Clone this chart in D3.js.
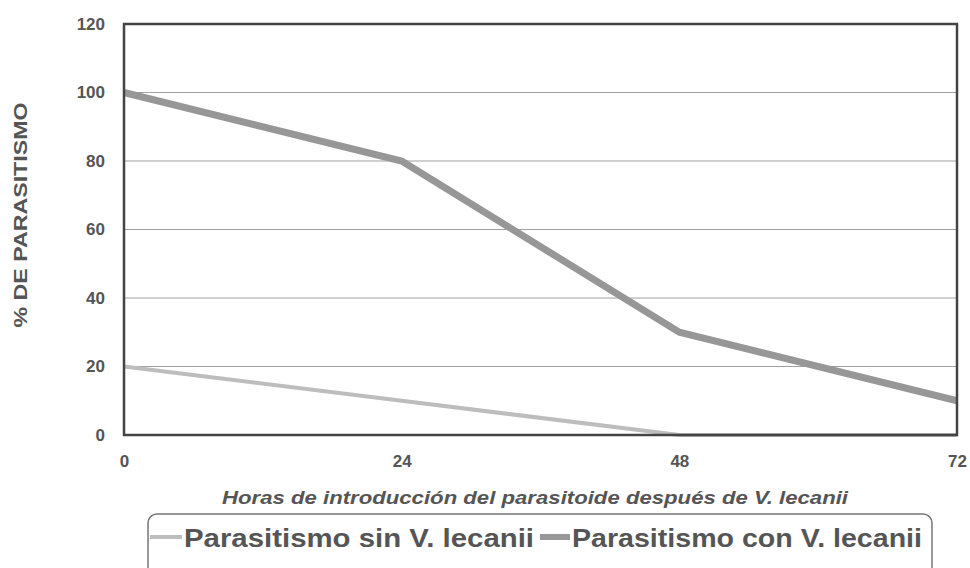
<!DOCTYPE html>
<html>
<head>
<meta charset="utf-8">
<script src="https://cdn.jsdelivr.net/npm/d3@7"></script>
<style>
  body { margin: 0; background: #fff; }
  text { font-family: "Liberation Sans", Arial, sans-serif; }
</style>
</head>
<body>
<svg id="chart" width="970" height="568"></svg>
<script>
// datos
var horas = [0, 24, 48, 72];
var sinLecanii = [20, 10, 0, 0];
var conLecanii = [100, 80, 30, 10];
var yTicks = [0, 20, 40, 60, 80, 100, 120];
var nombres = ["Parasitismo sin V. lecanii", "Parasitismo con V. lecanii"];

var svg = d3.select("#chart"),
    margin = {top: 24, right: 13, bottom: 133, left: 124},
    width = +svg.attr("width") - margin.left - margin.right,
    height = +svg.attr("height") - margin.top - margin.bottom,
    g = svg.append("g").attr("transform", "translate(" + margin.left + "," + margin.top + ")");

var x = d3.scaleLinear().domain([0, 72]).range([0, width]);
var y = d3.scaleLinear().domain([0, 120]).range([height, 0]);

// lineas de rejilla
g.append("g")
    .selectAll("line")
    .data(yTicks.slice(1, -1))
    .join("line")
    .attr("x1", 0).attr("x2", width)
    .attr("y1", function(d) { return y(d); })
    .attr("y2", function(d) { return y(d); })
    .attr("stroke", "#a0a0a0")
    .attr("stroke-width", 1);

var yAxis = g.append("g")
    .call(d3.axisLeft(y).tickValues(yTicks).tickSize(0).tickPadding(19));
yAxis.select(".domain").remove();
yAxis.selectAll("text")
    .attr("font-size", 17).attr("font-weight", "bold").attr("fill", "#555");

var xAxis = g.append("g")
    .attr("transform", "translate(0," + height + ")")
    .call(d3.axisBottom(x).tickValues(horas).tickSize(0).tickPadding(20));
xAxis.select(".domain").remove();
xAxis.selectAll("text")
    .attr("font-size", 17).attr("font-weight", "bold").attr("fill", "#555");

var line = d3.line()
    .x(function(d, i) { return x(horas[i]); })
    .y(function(d) { return y(d); });

g.append("path")
    .datum(sinLecanii)
    .attr("d", line)
    .attr("fill", "none")
    .attr("stroke", "#bdbdbd")
    .attr("stroke-width", 4);

g.append("path")
    .datum(conLecanii)
    .attr("d", line)
    .attr("fill", "none")
    .attr("stroke", "#979797")
    .attr("stroke-width", 7);

// marco
g.append("rect")
    .attr("width", width).attr("height", height)
    .attr("fill", "none")
    .attr("stroke", "#444")
    .attr("stroke-width", 2.5);

svg.append("text")
    .attr("transform", "translate(27,215) rotate(-90)")
    .attr("text-anchor", "middle")
    .attr("font-size", 19).attr("font-weight", "bold").attr("fill", "#555")
    .attr("textLength", 225).attr("lengthAdjust", "spacingAndGlyphs")
    .text("% DE PARASITISMO");

svg.append("text")
    .attr("x", 535).attr("y", 504)
    .attr("text-anchor", "middle")
    .attr("font-size", 19).attr("font-weight", "bold").attr("font-style", "italic")
    .attr("fill", "#555")
    .attr("textLength", 626).attr("lengthAdjust", "spacingAndGlyphs")
    .text("Horas de introducción del parasitoide después de V. lecanii");

// leyenda (el borde inferior queda fuera de la imagen)
var leg = svg.append("g");
leg.append("rect")
    .attr("x", 148).attr("y", 514).attr("width", 784).attr("height", 70)
    .attr("rx", 9)
    .attr("fill", "#fff").attr("stroke", "#777").attr("stroke-width", 1.5);

var legX = [150, 540];
var legLen = [32, 30];
var legColor = ["#bdbdbd", "#979797"];
var legW = [4, 6];
nombres.forEach(function(n, i) {
  leg.append("line")
      .attr("x1", legX[i]).attr("x2", legX[i] + legLen[i])
      .attr("y1", 537).attr("y2", 537)
      .attr("stroke", legColor[i]).attr("stroke-width", legW[i]);
  leg.append("text")
      .attr("x", legX[i] + legLen[i] + 2).attr("y", 547)
      .attr("font-size", 26).attr("font-weight", "bold").attr("fill", "#555")
      .attr("textLength", 350).attr("lengthAdjust", "spacingAndGlyphs")
      .text(n);
});
</script>
</body>
</html>
